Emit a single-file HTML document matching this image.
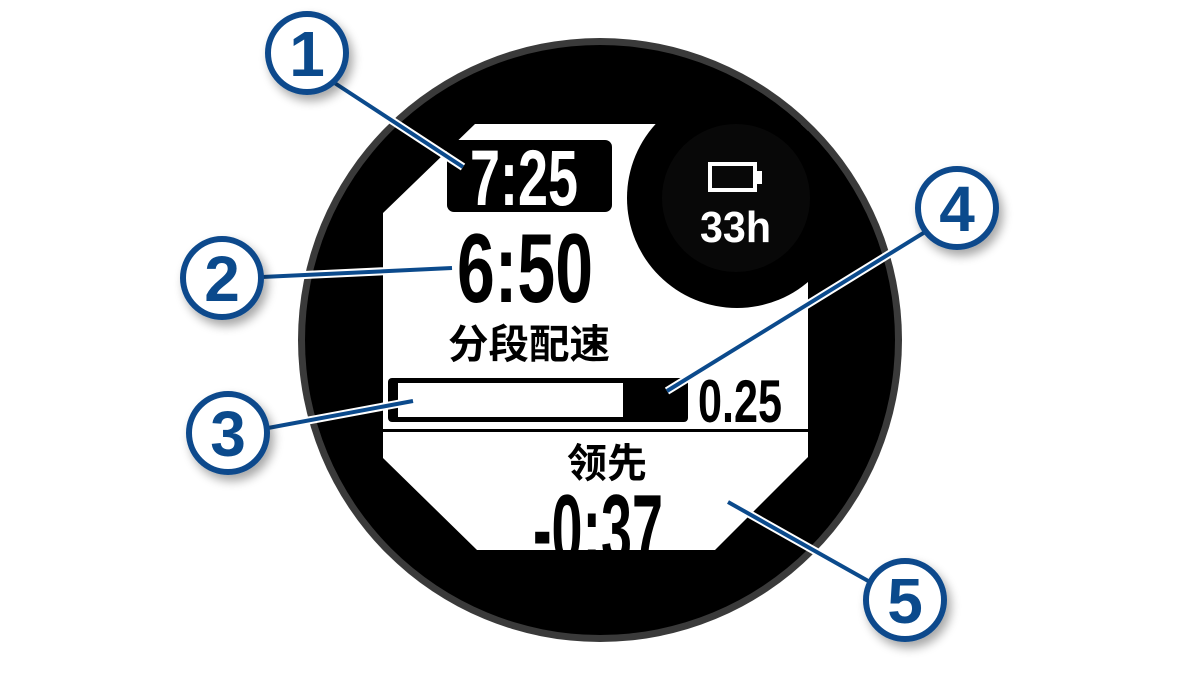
<!DOCTYPE html>
<html><head><meta charset="utf-8"><style>
html,body{margin:0;padding:0;background:#fff;}
svg{display:block;}
text{font-family:"Liberation Sans","Noto Sans CJK SC",sans-serif;font-weight:bold;}
</style></head><body>
<svg width="1201" height="676" viewBox="0 0 1201 676" xmlns="http://www.w3.org/2000/svg">
<defs>
<filter id="sh" x="-50%" y="-50%" width="200%" height="200%">
<feGaussianBlur in="SourceAlpha" stdDeviation="5"/>
<feOffset dx="4" dy="6" result="b"/>
<feComponentTransfer><feFuncA type="linear" slope="0.35"/></feComponentTransfer>
<feMerge><feMergeNode/><feMergeNode in="SourceGraphic"/></feMerge>
</filter>
<clipPath id="face"><circle cx="600" cy="340" r="295"/></clipPath>
</defs>
<!-- bezel -->
<circle cx="600" cy="340" r="302" fill="#3a3a3a"/>
<circle cx="600" cy="340" r="295" fill="#000"/>
<g clip-path="url(#face)">
<polygon points="475,124 808,124 808,457 715,550 477,550 383,458 383,213" fill="#fff"/>
<circle cx="737" cy="198" r="110" fill="#000"/>
<circle cx="736" cy="198" r="74" fill="#080808"/>
</g>
<!-- battery -->
<rect x="710" y="164" width="45" height="26" fill="none" stroke="#fff" stroke-width="4"/>
<rect x="757" y="171" width="5" height="13" fill="#fff"/>
<text x="700" y="242" font-size="44" fill="#fff" textLength="71" lengthAdjust="spacingAndGlyphs">33h</text>
<!-- 7:25 -->
<rect x="447" y="140" width="165" height="72" rx="7" fill="#000"/>
<text x="470" y="205" font-size="79" fill="#fff" textLength="108" lengthAdjust="spacingAndGlyphs">7:25</text>
<!-- 6:50 -->
<text x="457" y="302" font-size="98" fill="#000" textLength="136" lengthAdjust="spacingAndGlyphs">6:50</text>
<text x="448" y="358" font-size="40" fill="#000" textLength="162" lengthAdjust="spacingAndGlyphs">分段配速</text>
<!-- bar -->
<rect x="388" y="378" width="300" height="44" rx="4" fill="#000"/>
<rect x="398" y="383" width="225" height="34" fill="#fff"/>
<text x="698" y="422" font-size="60" fill="#000" textLength="84" lengthAdjust="spacingAndGlyphs">0.25</text>
<rect x="383" y="429" width="425" height="3" fill="#000"/>
<text x="567" y="477" font-size="40" fill="#000" textLength="80" lengthAdjust="spacingAndGlyphs">领先</text>
<text x="533" y="563" font-size="98" fill="#000" textLength="130" lengthAdjust="spacingAndGlyphs">-0:37</text>
<rect x="470" y="550" width="260" height="20" fill="#000"/>
<!-- leader lines -->
<g stroke-linecap="butt">
<g stroke="#fff" stroke-width="8">
<line x1="330" y1="80" x2="463" y2="167"/>
<line x1="262" y1="277" x2="452" y2="268"/>
<line x1="268" y1="428" x2="413" y2="401"/>
<line x1="925" y1="232" x2="667" y2="391"/>
<line x1="870" y1="582" x2="728" y2="502"/>
</g>
<g stroke="#0b4a8c" stroke-width="4">
<line x1="330" y1="80" x2="463" y2="167"/>
<line x1="262" y1="277" x2="452" y2="268"/>
<line x1="268" y1="428" x2="413" y2="401"/>
<line x1="925" y1="232" x2="667" y2="391"/>
<line x1="870" y1="582" x2="728" y2="502"/>
</g>
</g>
<!-- callouts -->
<g filter="url(#sh)">
<circle cx="307" cy="53" r="39" fill="#fff" stroke="#0b4a8c" stroke-width="6"/>
<circle cx="222" cy="278" r="39" fill="#fff" stroke="#0b4a8c" stroke-width="6"/>
<circle cx="228" cy="433" r="39" fill="#fff" stroke="#0b4a8c" stroke-width="6"/>
<circle cx="957" cy="208" r="39" fill="#fff" stroke="#0b4a8c" stroke-width="6"/>
<circle cx="905" cy="600" r="39" fill="#fff" stroke="#0b4a8c" stroke-width="6"/>
</g>
<g fill="#0b4a8c" font-size="64" text-anchor="middle">
<text x="307" y="76">1</text>
<text x="222" y="301">2</text>
<text x="228" y="456">3</text>
<text x="957" y="231">4</text>
<text x="905" y="623">5</text>
</g>
</svg>
</body></html>
